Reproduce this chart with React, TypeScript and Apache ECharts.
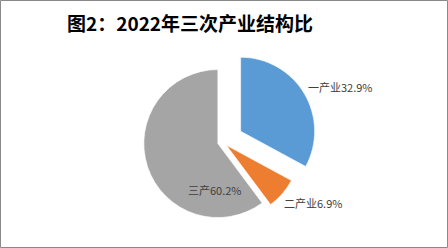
import React, { useEffect, useRef } from "react";
import * as echarts from "echarts";

const categories = ["一产业", "二产业", "三产"];
const shares = [32.9, 6.9, 60.2];
const colors = ["#5B9BD5", "#ED7D31", "#A5A5A5"];
const titleText = "图2：2022年三次产业结构比";

const labelPos: Record<number, { x: number; y: number }> = {
  0: { x: 308, y: 87 },
  1: { x: 284, y: 203 },
  2: { x: 188, y: 190 },
};

function buildData(visible: number[]) {
  return categories.map((name, i) => {
    const show = visible.includes(i);
    return {
      name,
      value: shares[i],
      selected: true,
      itemStyle: show
        ? { color: colors[i], borderColor: "#ffffff", borderWidth: 0.6 }
        : { color: "transparent", borderWidth: 0 },
    };
  });
}

export default function App() {
  const ref = useRef<HTMLDivElement>(null);
  useEffect(() => {
    if (!ref.current) return;
    const chart = echarts.init(ref.current, undefined, { renderer: "svg" });
    const common = {
      type: "pie",
      center: [222.6, 142],
      radius: 74,
      startAngle: 90,
      clockwise: true,
      avoidLabelOverlap: false,
      silent: true,
      emphasis: { disabled: true },
      labelLine: { show: false },
    };
    chart.setOption({
      animation: false,
      backgroundColor: "#ffffff",
      title: {
        text: titleText,
        left: 62,
        top: 8,
        textStyle: {
          fontFamily: "Noto Sans CJK SC",
          fontSize: 19,
          fontWeight: "bold",
          color: "#000000",
        },
      },
      graphic: [
        {
          type: "rect",
          shape: { x: 0.5, y: 0.5, width: 447, height: 247 },
          style: { fill: "none", stroke: "#898989", lineWidth: 1 },
          silent: true,
        },
      ],
      series: [
        {
          ...common,
          selectedMode: "multiple",
          selectedOffset: 21,
          label: { show: false },
          data: buildData([0]),
        },
        {
          ...common,
          selectedMode: "multiple",
          selectedOffset: 5,
          label: { show: false },
          data: buildData([1, 2]),
        },
        {
          ...common,
          selectedMode: false,
          itemStyle: { color: "transparent", borderWidth: 0 },
          label: {
            show: true,
            position: "inside",
            formatter: "{b}{c}%",
            fontFamily: "Noto Sans CJK SC",
            fontSize: 11,
            color: "#404040",
          },
          labelLayout: (p: any) => {
            const pos = labelPos[p.dataIndex];
            return { x: pos.x, y: pos.y, align: "left", verticalAlign: "middle" };
          },
          data: categories.map((name, i) => ({ name, value: shares[i] })),
        },
      ],
    });
    return () => chart.dispose();
  }, []);
  return (
    <div
      ref={ref}
      style={{ position: "absolute", left: 0, top: 0, width: 448, height: 248 }}
    />
  );
}
